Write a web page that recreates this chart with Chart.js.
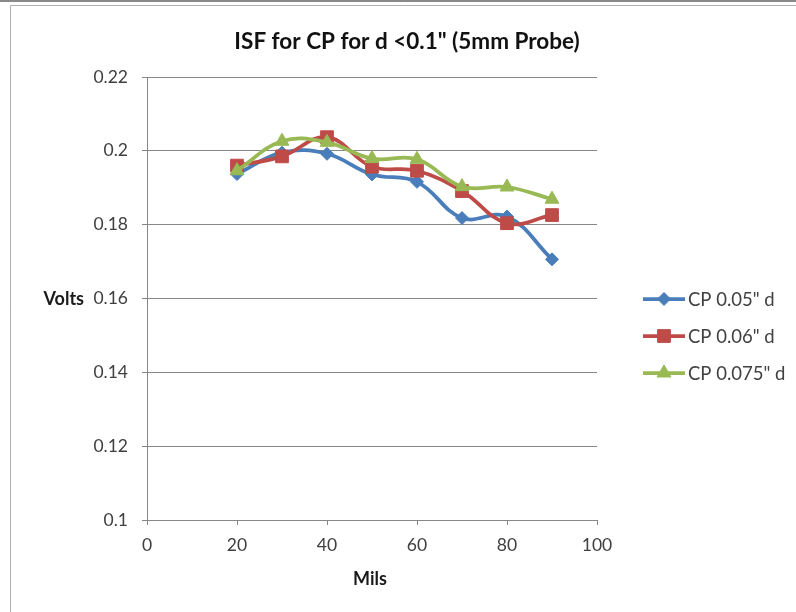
<!DOCTYPE html>
<html>
<head>
<meta charset="utf-8">
<script src="https://cdn.jsdelivr.net/npm/chart.js@4/dist/chart.umd.min.js"></script>
<style>
html,body{margin:0;padding:0;background:#fff;}
#wrap{width:796px;height:612px;position:relative;}
</style>
</head>
<body>
<div id="wrap"><canvas id="c" width="796" height="612"></canvas></div>
<script>
const chartTitle = 'ISF for CP for d <0.1" (5mm Probe)';
const xTitle = 'Mils';
const yTitle = 'Volts';
const mils = [20, 30, 40, 50, 60, 70, 80, 90];
const cp005 = [0.1937, 0.1995, 0.1992, 0.1936, 0.1916, 0.1818, 0.1822, 0.1706];
const cp006 = [0.1960, 0.1985, 0.2037, 0.1957, 0.1946, 0.1891, 0.1804, 0.1826];
const cp0075 = [0.1946, 0.2026, 0.2023, 0.1979, 0.1977, 0.1903, 0.1902, 0.1869];
const seriesNames = ['CP 0.05" d', 'CP 0.06" d', 'CP 0.075" d'];
const xTicks = [0, 20, 40, 60, 80, 100];
const yTicks = [0.1, 0.12, 0.14, 0.16, 0.18, 0.2, 0.22];

const colors = ['#4A7EBB', '#BE4B48', '#98B954'];
const styles = [
  {pointStyle: 'rectRot', radius: 6.5},
  {pointStyle: 'rect', radius: 9},
  {pointStyle: 'triangle', radius: 8}
];
const FONT = 'Lato';
const TXT = '#404040';
const AX = '#878787';

function toPts(ys){ return mils.map((x,i)=>({x:x, y:ys[i]})); }
const allSeries = [cp005, cp006, cp0075];

const datasets = allSeries.map((ys, i) => ({
  label: seriesNames[i],
  data: toPts(ys),
  showLine: true,
  borderColor: colors[i],
  backgroundColor: colors[i],
  borderWidth: 3.75,
  tension: 0.4,
  pointStyle: styles[i].pointStyle,
  pointRadius: styles[i].radius,
  pointBorderWidth: 1,
  pointBackgroundColor: colors[i],
  pointBorderColor: colors[i],
  order: 2 - i
}));

const deco = {
  id: 'deco',
  beforeDraw(chart){
    const ctx = chart.ctx;
    ctx.save();
    ctx.fillStyle = '#fff';
    ctx.fillRect(0,0,chart.width,chart.height);
    ctx.fillStyle = '#8a8a8a';
    ctx.fillRect(0,0,chart.width,2);
    ctx.strokeStyle = '#b0b0b0';
    ctx.lineWidth = 1;
    ctx.beginPath();
    ctx.moveTo(10.5, chart.height);
    ctx.lineTo(10.5, 5.5);
    ctx.lineTo(chart.width, 5.5);
    ctx.stroke();
    ctx.restore();
  },
  afterDraw(chart){
    const ctx = chart.ctx;
    const ca = chart.chartArea;
    ctx.save();
    // title
    ctx.fillStyle = '#111';
    ctx.font = 'bold 22.5px ' + FONT;
    ctx.textAlign = 'center';
    ctx.textBaseline = 'middle';
    ctx.fillText(chartTitle, 407, 42);
    // axis titles
    ctx.font = 'bold 18px ' + FONT;
    ctx.fillStyle = '#1a1a1a';
    ctx.fillText(xTitle, (ca.left + ca.right)/2 - 2, 579);
    ctx.textAlign = 'right';
    ctx.fillText(yTitle, 84, (ca.top + ca.bottom)/2 + 1);
    // legend
    const ys = [299, 336, 373];
    for (let i = 0; i < 3; i++){
      const y = ys[i];
      ctx.strokeStyle = colors[i];
      ctx.lineWidth = 3.75;
      ctx.beginPath();
      ctx.moveTo(643, y);
      ctx.lineTo(685, y);
      ctx.stroke();
      ctx.fillStyle = colors[i];
      ctx.lineWidth = 1;
      Chart.helpers.drawPoint(ctx, {pointStyle: styles[i].pointStyle, radius: styles[i].radius, rotation: 0, borderWidth: 1}, 664, y);
      ctx.fillStyle = TXT;
      ctx.font = '18.5px ' + FONT;
      ctx.textAlign = 'left';
      ctx.textBaseline = 'middle';
      ctx.fillText(seriesNames[i], 688, y + 1);
    }
    ctx.restore();
  }
};

new Chart(document.getElementById('c'), {
  type: 'scatter',
  data: { datasets },
  plugins: [deco],
  options: {
    responsive: false,
    animation: false,
    devicePixelRatio: 1,
    layout: { padding: { left: 87, right: 199, top: 77, bottom: 32 } },
    plugins: { legend: { display: false }, title: { display: false }, tooltip: { enabled: false } },
    scales: {
      x: {
        type: 'linear', min: 0, max: 100,
        afterBuildTicks: s => { s.ticks = xTicks.map(v => ({value: v})); },
        afterFit: s => { s.height = 60; },
        grid: { color: 'rgba(0,0,0,0)', tickColor: AX, tickLength: 5, drawTicks: true },
        border: { display: true, color: AX, width: 1 },
        ticks: { color: TXT, font: { family: FONT, size: 17.5 }, padding: 10, maxRotation: 0, callback: v => String(v) }
      },
      y: {
        type: 'linear', min: 0.1, max: 0.22,
        afterBuildTicks: s => { s.ticks = yTicks.map(v => ({value: v})); },
        afterFit: s => { s.width = 60; },
        grid: { color: AX, tickColor: AX, tickLength: 5, drawTicks: true },
        border: { display: true, color: AX, width: 1 },
        ticks: { color: TXT, font: { family: FONT, size: 17.5 }, padding: 14, callback: v => String(v) }
      }
    }
  }
});
</script>
</body>
</html>
